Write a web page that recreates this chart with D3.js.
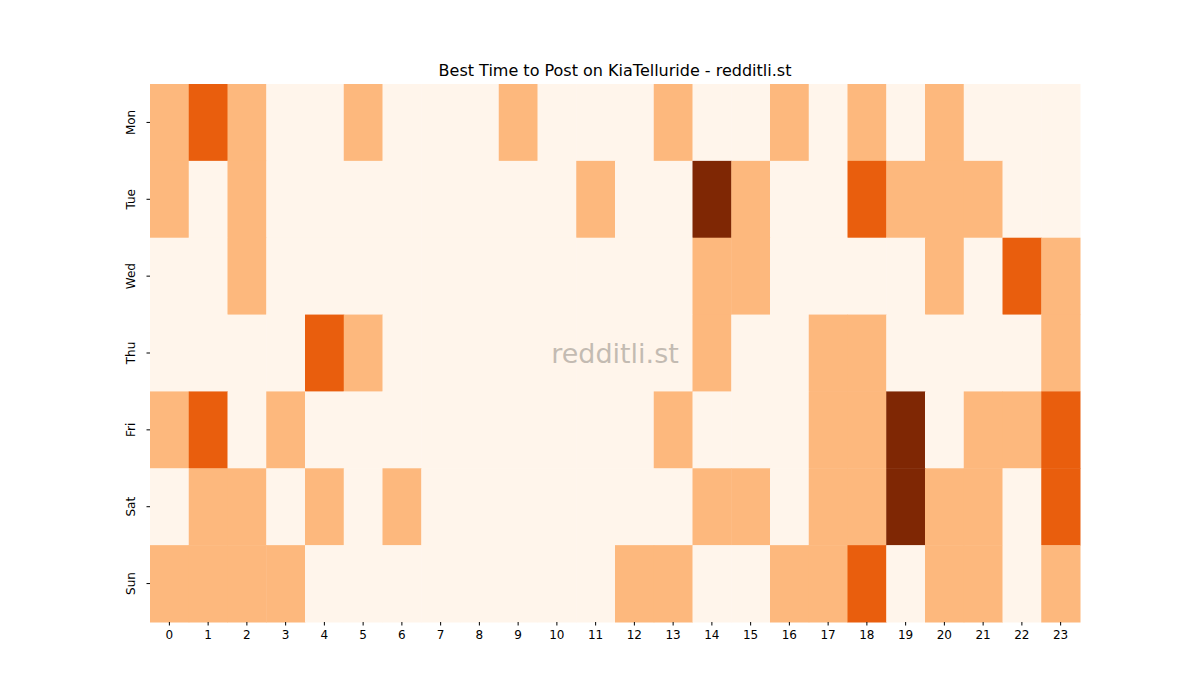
<!DOCTYPE html>
<html>
<head>
<meta charset="utf-8">
<script src="https://cdn.jsdelivr.net/npm/d3@7"></script>
<style>
  body { margin: 0; background: #fff; font-family: "DejaVu Sans", sans-serif; }
</style>
</head>
<body>
<div id="chart"></div>
<script>
// ------------------------------------------------------------
// Data
// ------------------------------------------------------------
const days = ["Mon", "Tue", "Wed", "Thu", "Fri", "Sat", "Sun"];
const hours = d3.range(24);

// activity level per day (rows) and hour (columns)
const levels = [
  [1,2,1,0,0,1,0,0,0,1,0,0,0,1,0,0,1,0,1,0,1,0,0,0],
  [1,0,1,0,0,0,0,0,0,0,0,1,0,0,3,1,0,0,2,1,1,1,0,0],
  [0,0,1,0,0,0,0,0,0,0,0,0,0,0,1,1,0,0,0,0,1,0,2,1],
  [0,0,0,0,2,1,0,0,0,0,0,0,0,0,1,0,0,1,1,0,0,0,0,1],
  [1,2,0,1,0,0,0,0,0,0,0,0,0,1,0,0,0,1,1,3,0,1,1,2],
  [0,1,1,0,1,0,1,0,0,0,0,0,0,0,1,1,0,1,1,3,1,1,0,2],
  [1,1,1,1,0,0,0,0,0,0,0,0,1,1,0,0,1,1,2,0,1,1,0,1]
];

const levelColors = ["#fff5eb", "#fdb87d", "#e95e0d", "#7f2704"];

// ------------------------------------------------------------
// Layout
// ------------------------------------------------------------
const width = 1200, height = 700;
const margin = { top: 84, right: 120, bottom: 78, left: 150 };

const svg = d3.select("#chart").append("svg")
  .attr("width", width)
  .attr("height", height);

const x = d3.scaleBand()
  .domain(hours)
  .range([margin.left, width - margin.right]);

const y = d3.scaleBand()
  .domain(days)
  .range([margin.top, height - margin.bottom]);

const color = d3.scaleOrdinal().domain([0, 1, 2, 3]).range(levelColors);

const cells = [];
levels.forEach((row, i) => row.forEach((v, j) => cells.push({ day: days[i], hour: hours[j], v })));

svg.append("g")
  .selectAll("rect")
  .data(cells)
  .join("rect")
  .attr("x", d => x(d.hour))
  .attr("y", d => y(d.day))
  .attr("width", x.bandwidth() + 0.5)
  .attr("height", y.bandwidth() + 0.5)
  .attr("fill", d => color(d.v));

// Axes
const xAxis = svg.append("g")
  .attr("transform", `translate(0,${height - margin.bottom})`)
  .call(d3.axisBottom(x).tickSizeOuter(0).tickSize(3.5).tickPadding(5));

const yAxis = svg.append("g")
  .attr("transform", `translate(${margin.left},0)`)
  .call(d3.axisLeft(y).tickSizeOuter(0).tickSize(3.5).tickPadding(5));

[xAxis, yAxis].forEach(g => {
  g.select(".domain").remove();
  g.selectAll("text").attr("font-size", 12).attr("fill", "#000")
    .attr("font-family", "DejaVu Sans, sans-serif");
});

yAxis.selectAll(".tick text")
  .attr("text-anchor", "middle")
  .attr("transform", "rotate(-90) translate(0,-6)")
  .attr("x", 0).attr("dy", "0")
  .attr("y", -9);

// Title
svg.append("text")
  .attr("x", (margin.left + width - margin.right) / 2)
  .attr("y", margin.top - 8)
  .attr("text-anchor", "middle")
  .attr("font-size", 16)
  .text("Best Time to Post on KiaTelluride - redditli.st");

// Watermark
svg.append("text")
  .attr("x", (margin.left + width - margin.right) / 2)
  .attr("y", (margin.top + height - margin.bottom) / 2)
  .attr("text-anchor", "middle")
  .attr("dominant-baseline", "central")
  .attr("font-size", 27)
  .attr("fill", "#b0a8a0")
  .attr("fill-opacity", 0.75)
  .text("redditli.st");
</script>
</body>
</html>
